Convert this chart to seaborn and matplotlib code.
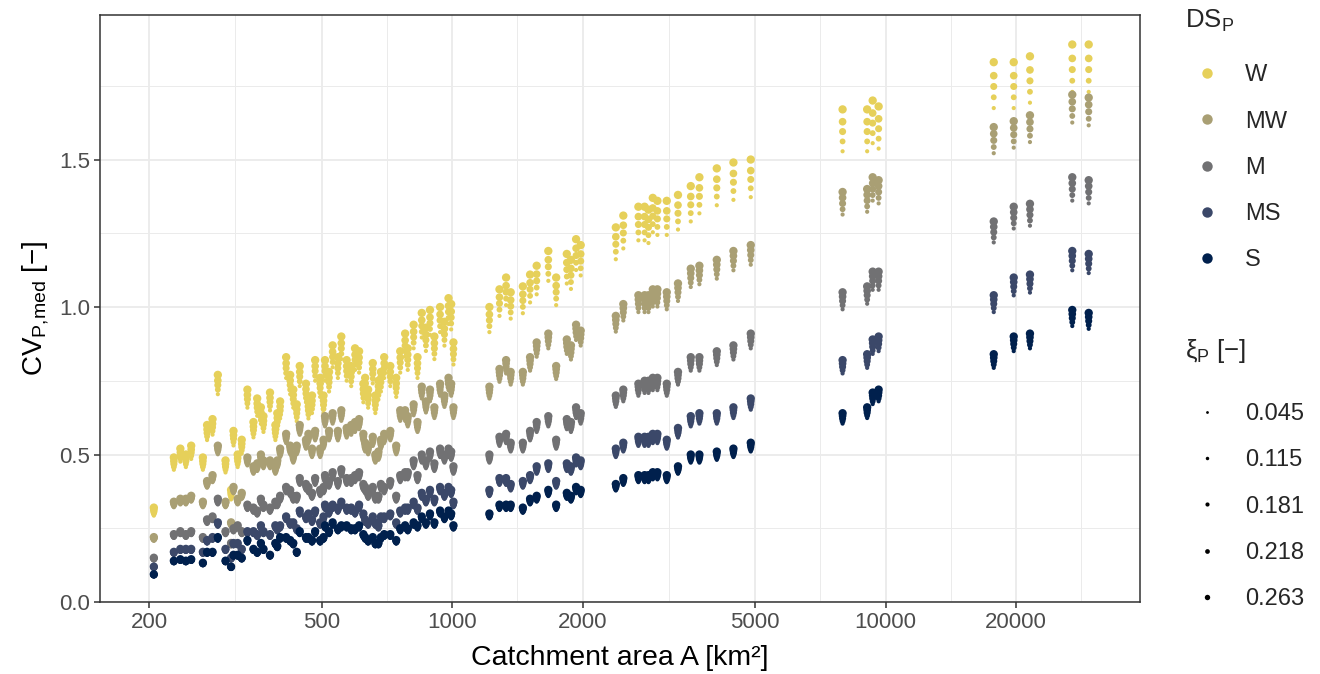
import numpy as np
import pandas as pd
import matplotlib
matplotlib.use("Agg")
import matplotlib.pyplot as plt
from matplotlib.lines import Line2D
from matplotlib.ticker import FixedLocator, NullFormatter
import seaborn as sns

# catchment areas [km2] and CV_P,med at the largest xi_P for each dry/wet class
area = [205, 228, 236, 250, 266, 272, 288, 309, 313, 327, 337, 348, 355, 367, 380,
        391, 401, 414, 423, 438, 466, 483, 496, 509, 530, 545, 571, 597, 624, 630,
        656, 676, 697, 743, 759, 779, 815, 832, 851, 889, 938, 981, 1007,
        1219, 1286, 1332, 1365, 1456, 1513, 1567, 1667, 1738, 1839, 1880, 1932, 1980,
        2386, 2483, 2690, 2780, 2838, 2904, 2976, 3128, 3320, 3553, 3720, 4080, 4457, 4887,
        7960, 9070, 9340, 9640, 17770, 19760, 21540, 26970, 29430,
        # more small catchments in the dense part
        243, 280, 300, 320, 362, 395, 430, 445, 460, 475, 505, 520, 555, 585, 610,
        640, 665, 685, 720, 790, 870, 910, 960, 995]

cv_W = [0.32, 0.49, 0.52, 0.53, 0.49, 0.60, 0.77, 0.38, 0.58, 0.55, 0.72, 0.61, 0.69, 0.63, 0.71,
        0.60, 0.68, 0.83, 0.77, 0.67, 0.68, 0.82, 0.76, 0.82, 0.87, 0.83, 0.82, 0.86, 0.74, 0.76,
        0.81, 0.75, 0.83, 0.76, 0.85, 0.91, 0.94, 0.83, 0.98, 0.99, 1.00, 1.03, 0.88,
        1.00, 1.06, 1.10, 1.05, 1.07, 1.11, 1.14, 1.19, 1.10, 1.18, 1.16, 1.23, 1.21,
        1.27, 1.31, 1.34, 1.34, 1.33, 1.37, 1.36, 1.36, 1.38, 1.41, 1.44, 1.47, 1.49, 1.50,
        1.67, 1.67, 1.70, 1.68, 1.83, 1.83, 1.85, 1.89, 1.89,
        0.50, 0.62, 0.48, 0.50, 0.66, 0.64, 0.72, 0.80, 0.74, 0.70, 0.70, 0.78, 0.90, 0.80, 0.85,
        0.72, 0.70, 0.78, 0.80, 0.86, 0.93, 0.90, 0.95, 1.01]

cv_MW = [0.22, 0.34, 0.35, 0.36, 0.34, 0.41, 0.53, 0.27, 0.39, 0.37, 0.49, 0.46, 0.47, 0.48, 0.48,
         0.46, 0.52, 0.57, 0.53, 0.53, 0.57, 0.58, 0.52, 0.63, 0.64, 0.58, 0.59, 0.61, 0.57, 0.54,
         0.56, 0.51, 0.57, 0.53, 0.65, 0.65, 0.67, 0.61, 0.73, 0.72, 0.74, 0.76, 0.66,
         0.73, 0.79, 0.82, 0.78, 0.78, 0.83, 0.88, 0.91, 0.80, 0.89, 0.87, 0.94, 0.92,
         0.97, 1.01, 1.04, 1.04, 1.04, 1.06, 1.06, 1.05, 1.08, 1.13, 1.14, 1.16, 1.19, 1.21,
         1.39, 1.40, 1.44, 1.43, 1.61, 1.63, 1.65, 1.72, 1.71,
         0.35, 0.43, 0.34, 0.35, 0.50, 0.48, 0.50, 0.60, 0.55, 0.52, 0.55, 0.58, 0.65, 0.60, 0.62,
         0.53, 0.50, 0.55, 0.58, 0.63, 0.68, 0.66, 0.70, 0.74]

cv_M = [0.15, 0.23, 0.24, 0.24, 0.22, 0.28, 0.35, 0.20, 0.25, 0.24, 0.33, 0.32, 0.31, 0.33, 0.32,
        0.34, 0.36, 0.39, 0.38, 0.36, 0.39, 0.42, 0.38, 0.43, 0.44, 0.41, 0.42, 0.43, 0.40, 0.39,
        0.39, 0.36, 0.39, 0.36, 0.43, 0.44, 0.48, 0.43, 0.50, 0.51, 0.52, 0.52, 0.46,
        0.50, 0.56, 0.57, 0.54, 0.54, 0.58, 0.61, 0.63, 0.55, 0.62, 0.61, 0.66, 0.64,
        0.70, 0.72, 0.74, 0.75, 0.75, 0.76, 0.76, 0.74, 0.78, 0.83, 0.83, 0.85, 0.87, 0.91,
        1.05, 1.07, 1.12, 1.12, 1.29, 1.34, 1.35, 1.44, 1.43,
        0.23, 0.29, 0.24, 0.26, 0.35, 0.34, 0.36, 0.42, 0.40, 0.37, 0.39, 0.41, 0.45, 0.42, 0.44,
        0.37, 0.36, 0.40, 0.41, 0.44, 0.48, 0.47, 0.50, 0.51]

cv_MS = [0.12, 0.17, 0.18, 0.18, 0.17, 0.21, 0.27, 0.15, 0.20, 0.18, 0.24, 0.24, 0.23, 0.24, 0.23,
         0.26, 0.26, 0.29, 0.27, 0.25, 0.30, 0.31, 0.27, 0.33, 0.33, 0.32, 0.32, 0.31, 0.30, 0.28,
         0.29, 0.26, 0.29, 0.27, 0.31, 0.32, 0.34, 0.32, 0.37, 0.38, 0.39, 0.39, 0.34,
         0.38, 0.42, 0.42, 0.40, 0.41, 0.43, 0.46, 0.47, 0.41, 0.47, 0.46, 0.49, 0.48,
         0.52, 0.54, 0.56, 0.56, 0.56, 0.57, 0.57, 0.55, 0.59, 0.63, 0.64, 0.64, 0.66, 0.69,
         0.82, 0.84, 0.89, 0.90, 1.04, 1.10, 1.11, 1.19, 1.18,
         0.18, 0.22, 0.18, 0.20, 0.26, 0.25, 0.27, 0.31, 0.29, 0.28, 0.29, 0.31, 0.34, 0.32, 0.33,
         0.27, 0.27, 0.29, 0.30, 0.32, 0.35, 0.35, 0.37, 0.38]

cv_S = [0.094, 0.14, 0.145, 0.145, 0.133, 0.17, 0.22, 0.12, 0.16, 0.15, 0.21, 0.18, 0.17, 0.18, 0.16,
        0.20, 0.22, 0.22, 0.21, 0.17, 0.22, 0.24, 0.21, 0.26, 0.27, 0.25, 0.26, 0.25, 0.23, 0.22,
        0.22, 0.20, 0.23, 0.21, 0.25, 0.26, 0.27, 0.26, 0.29, 0.30, 0.31, 0.31, 0.26,
        0.30, 0.33, 0.33, 0.33, 0.32, 0.35, 0.36, 0.38, 0.33, 0.37, 0.36, 0.39, 0.38,
        0.40, 0.42, 0.43, 0.43, 0.43, 0.44, 0.44, 0.43, 0.46, 0.50, 0.50, 0.51, 0.52, 0.54,
        0.64, 0.66, 0.71, 0.72, 0.84, 0.90, 0.91, 0.99, 0.98,
        0.14, 0.17, 0.14, 0.16, 0.20, 0.19, 0.20, 0.24, 0.22, 0.21, 0.22, 0.24, 0.26, 0.25, 0.26,
        0.21, 0.20, 0.22, 0.23, 0.25, 0.27, 0.27, 0.29, 0.30]

xi_levels = [0.045, 0.115, 0.181, 0.218, 0.263]
rel_W = [0.915, 0.935, 0.955, 0.975, 1.0]
rel_other = [0.945, 0.958, 0.972, 0.986, 1.0]

classes = ["W", "MW", "M", "MS", "S"]
colors = ["#E6D05A", "#A99F74", "#717173", "#3B4869", "#00204D"]

rows = []
for cls, vals in zip(classes, [cv_W, cv_MW, cv_M, cv_MS, cv_S]):
    rel = rel_W if cls == "W" else rel_other
    for a, v in zip(area, vals):
        for xi, r in zip(xi_levels, rel):
            rows.append({"area": a, "cv": v * r, "DS": cls, "xi": xi})
df = pd.DataFrame(rows)

sns.set_theme(style="white")
plt.rcParams["font.family"] = ["Liberation Sans", "DejaVu Sans"]
plt.rcParams["mathtext.default"] = "regular"

fig = plt.figure(figsize=(13.2, 6.74), dpi=100)
ax = fig.add_axes([100 / 1320, 72 / 674, 1040 / 1320, 587 / 674])

sns.scatterplot(data=df, x="area", y="cv", hue="DS", hue_order=classes,
                palette=colors, size="xi", sizes=(9, 36), linewidth=0,
                legend=False, ax=ax, zorder=3)

ax.set_xscale("log")
ax.set_xlim(154, 38650)
ax.set_ylim(0, 1.99)

majors_x = [200, 500, 1000, 2000, 5000, 10000, 20000]
minors_x = [316, 707, 1414, 3162, 7071, 14142, 28284]
ax.xaxis.set_major_locator(FixedLocator(majors_x))
ax.set_xticklabels([str(v) for v in majors_x])
ax.xaxis.set_minor_locator(FixedLocator(minors_x))
ax.xaxis.set_minor_formatter(NullFormatter())
ax.set_yticks([0, 0.5, 1.0, 1.5])
ax.set_yticklabels(["0.0", "0.5", "1.0", "1.5"])
ax.yaxis.set_minor_locator(FixedLocator([0.25, 0.75, 1.25, 1.75]))

ax.grid(True, which="major", color="#EBEBEB", linewidth=1.3, zorder=0)
ax.grid(True, which="minor", color="#EBEBEB", linewidth=0.7, zorder=0)
ax.set_axisbelow(True)
for sp in ax.spines.values():
    sp.set_color("#333333")
    sp.set_linewidth(1.1)
ax.tick_params(which="major", direction="out", length=4, width=1.1, color="#333333",
               labelcolor="#4D4D4D", labelsize=16, bottom=True, left=True, pad=3)
ax.tick_params(which="minor", length=0)

ax.set_xlabel("Catchment area A [km²]", fontsize=20.5, color="black", labelpad=9)
ax.set_ylabel("CV$_{P{,}med}$ [−]", fontsize=20, color="black", labelpad=6)

# legends
h1 = [Line2D([], [], marker="o", linestyle="", markersize=7.5, color=c,
             markeredgewidth=0) for c in colors]
leg1 = fig.legend(h1, classes, title="DS$_P$", loc="upper left",
                  bbox_to_anchor=(1176 / 1320, 1 + 2 / 674), frameon=False,
                  fontsize=17, title_fontsize=18.5, labelspacing=1.03,
                  handletextpad=0.72, borderaxespad=0, handlelength=1.8)
leg1._legend_box.align = "left"
leg1._legend_box.sep = 22

ms = [2.0, 2.5, 3.0, 3.4, 3.9]
h2 = [Line2D([], [], marker="o", linestyle="", markersize=m, color="black",
             markeredgewidth=0) for m in ms]
leg2 = fig.legend(h2, [f"{v:.3f}" for v in xi_levels], title="ξ$_P$ [−]",
                  loc="upper left", bbox_to_anchor=(1176 / 1320, 1 - 328 / 674),
                  frameon=False, fontsize=17, title_fontsize=18.5, labelspacing=1.03,
                  handletextpad=0.72, borderaxespad=0, handlelength=1.8)
leg2._legend_box.align = "left"
leg2._legend_box.sep = 27

fig.savefig("out.png", dpi=100)
